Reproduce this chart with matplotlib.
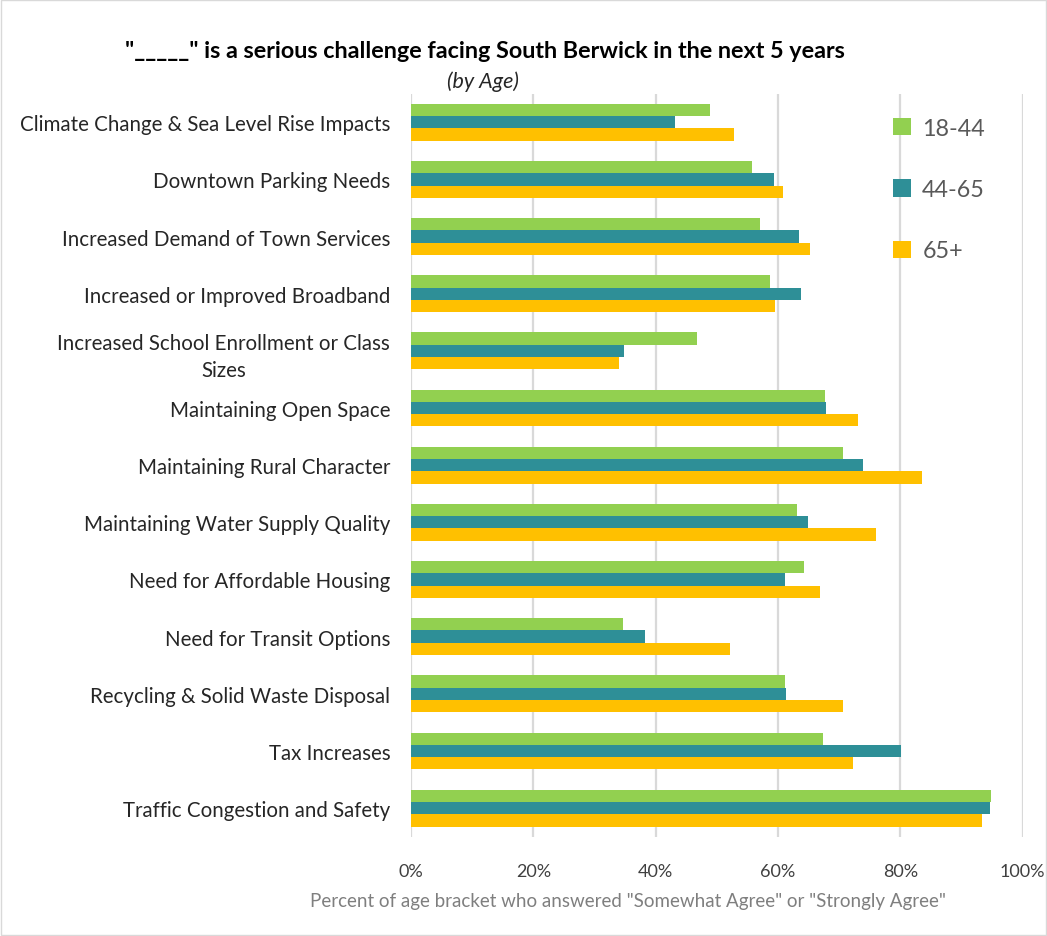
import numpy as np
import matplotlib
matplotlib.use("Agg")
import matplotlib.pyplot as plt
from matplotlib.patches import Rectangle

# Datos (porcentaje)
categorias = ["Climate Change & Sea Level Rise Impacts",
              "Downtown Parking Needs",
              "Increased Demand of Town Services",
              "Increased or Improved Broadband",
              "Increased School Enrollment or Class\nSizes",
              "Maintaining Open Space",
              "Maintaining Rural Character",
              "Maintaining Water Supply Quality",
              "Need for Affordable Housing",
              "Need for Transit Options",
              "Recycling & Solid Waste Disposal",
              "Tax Increases",
              "Traffic Congestion and Safety"]
edad_18_44 = [48.9, 55.8, 57.1, 58.7, 46.8, 67.7, 70.6, 63.1, 64.3, 34.6, 61.1, 67.3, 94.9]
edad_44_65 = [43.1, 59.4, 63.4, 63.8, 34.8, 67.8, 73.9, 65.0, 61.1, 38.2, 61.3, 80.2, 94.7]
edad_65_mas = [52.8, 60.8, 65.2, 59.5, 34.0, 73.1, 83.6, 76.0, 66.9, 52.1, 70.7, 72.2, 93.4]
series = ["18-44", "44-65", "65+"]
cores = ["#92D050", "#2E8F97", "#FFC000"]
xticks = [0, 20, 40, 60, 80, 100]

plt.rcParams['font.family'] = ['Lato', 'DejaVu Sans']

fig = plt.figure(figsize=(10.47, 9.37), dpi=100)
ax = fig.add_axes([0.3926, 0.106, 0.584, 0.793])

y = np.arange(len(categorias))
h = 0.215
for k, (vals, nome) in enumerate(zip([edad_18_44, edad_44_65, edad_65_mas], series)):
    ax.barh(y + (k - 1) * h, vals, height=h, color=cores[k], label=nome, zorder=3)

ax.set_ylim(len(categorias) - 0.5, -0.5)
ax.set_xlim(0, 100)
ax.set_xticks(xticks)
ax.set_xticklabels(["%d%%" % v for v in xticks], fontsize=13, color="#404040")
ax.set_yticks(y)
ax.set_yticklabels(categorias, fontsize=14.8, color="#262626")
for lab in ax.get_yticklabels():
    lab.set_multialignment("center")
    lab.set_linespacing(1.45)
ax.tick_params(length=0, axis="y", pad=15)
ax.tick_params(length=0, axis="x", pad=19)
ax.grid(axis="x", color="#d9d9d9", linewidth=1.6, zorder=0)
for s in ["top", "right", "bottom", "left"]:
    ax.spines[s].set_visible(False)

fig.text(0.6, 0.0374, 'Percent of age bracket who answered "Somewhat Agree" or "Strongly Agree"',
         ha="center", va="center", fontsize=13.5, color="#7f7f7f")

fig.text(0.4628, 0.945, '"_____" is a serious challenge facing South Berwick in the next 5 years',
         ha="center", va="center", fontsize=16.8, fontweight="bold", color="black")
fig.text(0.461, 0.913, "(by Age)", ha="center", va="center", fontsize=15.5, style="italic",
         color="#262626")

leg = ax.legend(loc="upper left", bbox_to_anchor=(0.853, 0.873),
                bbox_transform=fig.transFigure, frameon=False, fontsize=16.8,
                labelcolor="#595959", handlelength=0.75, handleheight=0.75,
                labelspacing=1.72, handletextpad=0.5, borderpad=0, borderaxespad=0)

fig.patches.append(Rectangle((0.001, 0.001), 0.998, 0.998, transform=fig.transFigure,
                             fill=False, edgecolor="#d9d9d9", linewidth=1))

plt.savefig("out.png", dpi=100)
